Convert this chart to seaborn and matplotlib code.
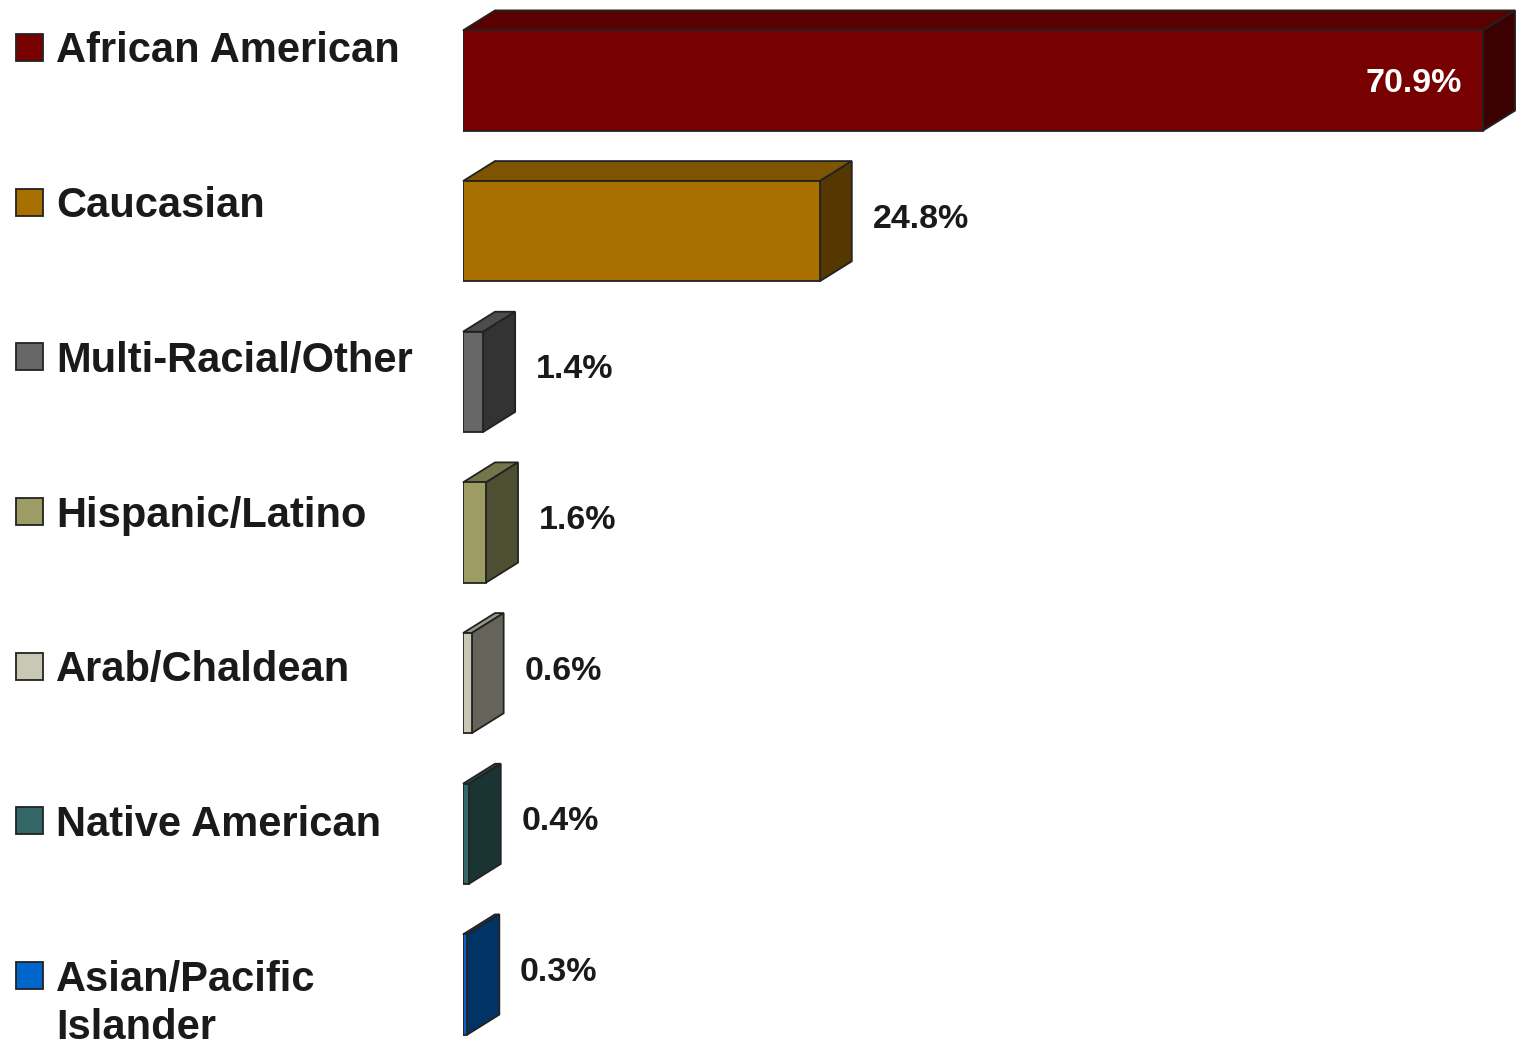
import matplotlib
matplotlib.use("Agg")
import matplotlib.pyplot as plt
import seaborn as sns
import pandas as pd
import numpy as np
from matplotlib.patches import Polygon, Rectangle
from matplotlib.colors import to_rgb

categories = ["African American", "Caucasian", "Multi-Racial/Other",
              "Hispanic/Latino", "Arab/Chaldean", "Native American",
              "Asian/Pacific Islander"]
legend_labels = ["African American", "Caucasian", "Multi-Racial/Other",
                 "Hispanic/Latino", "Arab/Chaldean", "Native American",
                 "Asian/Pacific\nIslander"]
values = [70.9, 24.8, 1.4, 1.6, 0.6, 0.4, 0.3]
value_labels = ["70.9%", "24.8%", "1.4%", "1.6%", "0.6%", "0.4%", "0.3%"]
colors = ["#770000", "#a87000", "#666666", "#9c9c64", "#c8c8b4", "#336666", "#0066cc"]

sns.set_theme(style="white")
plt.rcParams['font.family'] = ['Liberation Sans', 'DejaVu Sans']

W, H = 1518, 1045
fig = plt.figure(figsize=(W / 100, H / 100), dpi=100)
fig.patch.set_facecolor("white")
ax = fig.add_axes([463 / W, 0, (W - 463) / W, 1])

df = pd.DataFrame({"cat": categories, "val": values})
sns.barplot(data=df, x="val", y="cat", hue="cat", palette=colors, legend=False,
            orient="h", width=0.665, edgecolor="#222222", linewidth=1.3,
            saturation=1, ax=ax, zorder=3)

px_per_unit = 14.387
ax.set_xlim(0, (W - 463) / px_per_unit)
ax.set_ylim(6.4015, -0.5343)
ax.axis("off")

# depth of 3D effect in pixels -> data units
fig.canvas.draw()
p0 = ax.transData.transform((0, 0))
p1 = ax.transData.transform((1, 1))
ux = p1[0] - p0[0]
uy = p1[1] - p0[1]  # negative because inverted
dx = 32 / ux
dy = 20 / uy  # move upward on screen

def shade(c, f):
    r, g, b = to_rgb(c)[:3]
    return (r * f, g * f, b * f)

for p in ax.patches:
    x0 = p.get_x()
    w = p.get_width()
    y0 = p.get_y()
    h = p.get_height()
    ytop = min(y0, y0 + h)
    ybot = max(y0, y0 + h)
    fc = p.get_facecolor()
    x1 = x0 + w
    top = Polygon([(x0, ytop), (x1, ytop), (x1 + dx, ytop + dy), (x0 + dx, ytop + dy)],
                  closed=True, facecolor=shade(fc, 0.75), edgecolor="#222222",
                  linewidth=1.3, zorder=2, clip_on=False)
    side = Polygon([(x1, ytop), (x1 + dx, ytop + dy), (x1 + dx, ybot + dy), (x1, ybot)],
                   closed=True, facecolor=shade(fc, 0.5), edgecolor="#222222",
                   linewidth=1.3, zorder=2, clip_on=False)
    ax.add_patch(top)
    ax.add_patch(side)

# value labels
for i, (v, lab) in enumerate(zip(values, value_labels)):
    if i == 0:
        ax.annotate(lab, (v, i), xytext=(-15, -8.6), textcoords="offset points",
                    ha="right", va="baseline", fontsize=24.5, fontweight="bold",
                    color="white", zorder=5)
    else:
        ax.annotate(lab, (v, i), xytext=(38, 2.5), textcoords="offset points",
                    ha="left", va="baseline", fontsize=24.5, fontweight="bold",
                    color="#1a1a1a", zorder=5)

# legend (left column)
row0 = 47.5
step = 154.67
for i, (lab, c) in enumerate(zip(legend_labels, colors)):
    cy = row0 + i * step
    fig.patches.append(Rectangle((16 / W, 1 - (cy + 13.5) / H), 27 / W, 27 / H,
                                 transform=fig.transFigure, facecolor=c,
                                 edgecolor="#222222", linewidth=1.3))
    lines = lab.split("\n")
    for j, ln in enumerate(lines):
        fig.text(56 / W, 1 - (cy + 15 + j * 48) / H, ln, ha="left", va="baseline",
                 fontsize=30, fontweight="bold", color="#1a1a1a")

fig.savefig("out.png", dpi=100, facecolor="white")
